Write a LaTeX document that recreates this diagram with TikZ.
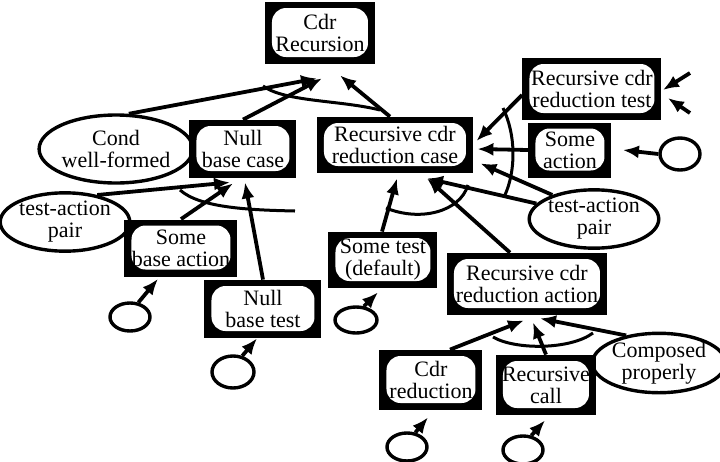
\documentclass[tikz,border=0pt]{standalone}
\usepackage{fontspec}
\setmainfont{Liberation Serif}
\usetikzlibrary{shapes.geometric, arrows.meta, calc}

\begin{document}
\begin{tikzpicture}[
  x=0.5pt, y=-0.5pt,
  font=\fontsize{11}{11}\selectfont,
  box/.style={rectangle, fill=black, inner sep=0pt, align=center,
              path picture={\fill[white, rounded corners=7pt]
                ([shift={(3.5pt,3.5pt)}]path picture bounding box.south west) rectangle
                ([shift={(-3.5pt,-3pt)}]path picture bounding box.north east);}},
  oval/.style={ellipse, draw=black, line width=1.7pt, inner sep=0pt, align=center},
  leaf/.style={ellipse, draw=black, line width=1.7pt, inner sep=0pt,
               minimum width=20pt, minimum height=14pt},
  arr/.style={-{Latex[length=8pt, width=6.5pt]}, line width=1.9pt},
  andarc/.style={line width=1.5pt},
]
%% coordinates are in pixels of the 720x462 page, y grows downwards
\useasboundingbox (0,0) rectangle (720,462);

%% ---- goal and its three parts ----
\node[box, minimum width=55pt, minimum height=31pt] (cdrrec) at (320,33) {Cdr\\Recursion};
\node[oval, minimum width=66pt, minimum height=34pt] (cond) at (116,149) {Cond\\well-formed};
\node[box, minimum width=53.5pt, minimum height=29pt] (nullcase) at (243,149) {Null\\base case};
\node[box, minimum width=78pt, minimum height=28pt] (reccase) at (395,145) {Recursive cdr\\reduction case};

%% ---- below the null base case ----
\node[oval, minimum width=58pt, minimum height=26.5pt] (tapL) at (65,222) {test-action\\pair};
\node[box, minimum width=56.5pt, minimum height=28.5pt] (somebase) at (181,248) {Some\\base action};
\node[box, minimum width=58.5pt, minimum height=29pt] (nulltest) at (263,309) {Null\\base test};
\node[leaf] (c2) at (130,317) {};
\node[leaf, minimum width=21pt, minimum height=16pt] (c3) at (233,372) {};

%% ---- around the recursive case ----
\node[box, minimum width=69.5pt, minimum height=31pt] (rectest) at (592,89) {Recursive cdr\\reduction test};
\node[box, minimum width=41.5pt, minimum height=27.5pt] (someact) at (570,150) {Some\\action};
\node[leaf, minimum height=16pt] (c1) at (680,154) {};
\node[oval, minimum width=56pt, minimum height=27.5pt] (tapR) at (594,219) {test-action\\pair};
\node[box, minimum width=54.5pt, minimum height=28pt] (sometest) at (383,260) {Some test\\(default)};
\node[leaf, minimum width=21pt, minimum height=13pt] (c4) at (356,320) {};
\node[box, minimum width=80pt, minimum height=31pt] (recact) at (527,284) {Recursive cdr\\reduction action};
\coordinate (t1) at (690,73);
\coordinate (t2) at (690,113);

%% ---- parts of the recursive action ----
\node[box, minimum width=51.5pt, minimum height=30pt] (cdrred) at (431,380) {Cdr\\reduction};
\node[box, minimum width=50pt, minimum height=30pt] (reccall) at (546,385) {Recursive\\call};
\node[oval, minimum width=54pt, minimum height=26.5pt] (composed) at (659,363) {Composed\\properly};
\node[leaf] (c5) at (407,447) {};
\node[leaf] (c6) at (523,450) {};

%% ---- links ----
\draw[arr] (cond.70) -- ($(cdrrec.south)+(-3,14)$);
\draw[arr] (nullcase.north) -- ($(cdrrec.south)+(2,14)$);
\draw[arr] ($(reccase.north)+(-5,0)$) -- ($(cdrrec.south)+(20,11)$);
\draw[andarc] (263,86) .. controls (285,102) and (340,100) .. (380,110);

\draw[arr] (tapL.40) -- ($(nullcase.south)+(-13,4)$);
\draw[arr] (somebase.north) -- ($(nullcase.south)+(-10,5)$);
\draw[arr] (nulltest.north) -- ($(nullcase.south)+(2,4)$);
\draw[andarc] (180,190) .. controls (200,208) and (250,210) .. (295,211);

\draw[arr] ($(rectest.west)+(0,6)$) -- ($(reccase.east)+(3,-4)$);
\draw[arr] (someact.west) -- ($(reccase.east)+(4,4)$);
\draw[arr] (tapR.150) -- ($(reccase.south east)+(7,-10)$);
\draw[arr] (tapR.165) -- ($(reccase.south)+(32,5)$);
\draw[arr] ($(recact.north)+(-17,0)$) -- ($(reccase.south)+(32,5)$);
\draw[arr] ($(sometest.north)+(-1,0)$) -- ($(reccase.south)+(2,5)$);
\draw[andarc] (503,108) .. controls (516,135) and (516,170) .. (505,195);
\draw[andarc] (386,208) .. controls (420,222) and (460,212) .. (468,185);

\draw[arr] ($(cdrred.north)+(19,0)$) -- ($(recact.south)+(-3,5)$);
\draw[arr] (reccall.north) -- ($(recact.south)+(6,7)$);
\draw[arr] (composed.140) -- ($(recact.south)+(13,3)$);
\draw[andarc] (493,337) .. controls (515,350) and (570,350) .. (593,333);

%% ---- leaves and loose ends ----
\draw[arr] (c1.west) -- ($(someact.east)+(11,0)$);
\draw[arr] (c2.60) -- ($(somebase.south)+(-23,2)$);
\draw[arr] (c3.60) -- ($(nulltest.south)+(-6,0)$);
\draw[arr] (c4.60) -- ($(sometest.south)+(-5,4)$);
\draw[arr] (c5.60) -- ($(cdrred.south)+(-3,7)$);
\draw[arr] (c6.60) -- ($(reccall.south)+(-1,5)$);
\draw[arr] (t1) -- ($(rectest.east)+(1,1)$);
\draw[arr] (t2) -- ($(rectest.east)+(6,9)$);
\end{tikzpicture}
\end{document}
